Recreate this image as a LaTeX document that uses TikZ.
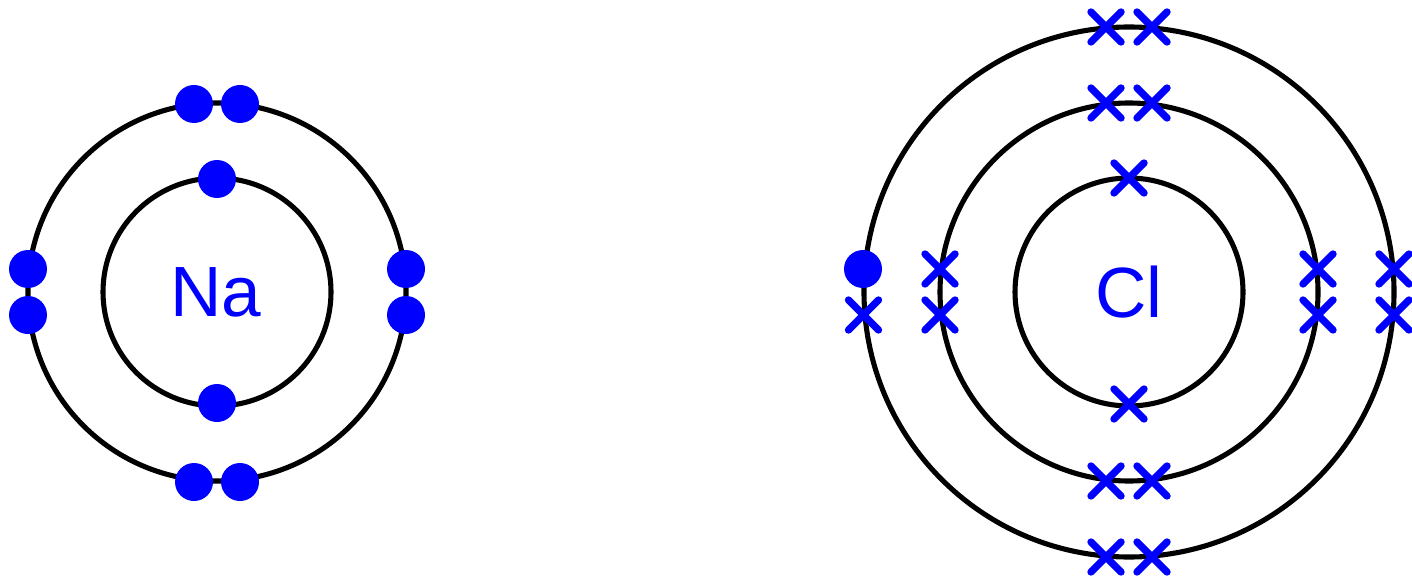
\documentclass[tikz,border=0pt]{standalone}
\usepackage{fontspec}
\setmainfont{Liberation Sans}
\usetikzlibrary{shapes.misc}
\definecolor{elecblue}{RGB}{0,0,255}
\tikzset{
  shell/.style={draw=black,line width=2.9pt},
  dotelec/.style={circle,fill=elecblue,inner sep=0pt,minimum size=0.76cm},
  crosselec/.style={cross out,draw=elecblue,line width=4.2pt,line cap=round,inner sep=0pt,outer sep=0pt,minimum size=0.6cm},
  atomlabel/.style={text=elecblue,font=\fontsize{40.5}{48}\selectfont}
}
\begin{document}
\begin{tikzpicture}
\useasboundingbox (0,0) rectangle (28.24,11.54);
% sodium
\coordinate (na) at (4.34,5.7);
\draw[shell] (na) circle (2.28);
\draw[shell] (na) circle (3.78);
\node[atomlabel] (nalabel) at (4.32,5.7) {Na};
\node[dotelec] (nainnertop) at (4.34,7.96) {};
\node[dotelec] (nainnerbot) at (4.34,3.48) {};
\foreach \dx/\nm in {-0.46/a,0.46/b} {
  \node[dotelec] (natop\nm) at (4.34+\dx,9.46) {};
  \node[dotelec] (nabot\nm) at (4.34+\dx,1.9) {};
  \node[dotelec] (naleft\nm) at (0.56,5.7+\dx) {};
  \node[dotelec] (naright\nm) at (8.12,5.7+\dx) {};
}
% chlorine
\coordinate (cl) at (22.58,5.7);
\draw[shell] (cl) circle (2.28);
\draw[shell] (cl) circle (3.78);
\draw[shell] (cl) circle (5.3);
\node[atomlabel] (cllabel) at (cl) {Cl};
\node[crosselec] (clinnertop) at (22.58,7.98) {};
\node[crosselec] (clinnerbot) at (22.58,3.46) {};
\foreach \dx/\nm in {-0.46/a,0.46/b} {
  \node[crosselec] (clmidtop\nm) at (22.58+\dx,9.48) {};
  \node[crosselec] (clmidbot\nm) at (22.58+\dx,1.92) {};
  \node[crosselec] (clmidleft\nm) at (18.8,5.7+\dx) {};
  \node[crosselec] (clmidright\nm) at (26.36,5.7+\dx) {};
  \node[crosselec] (clouttop\nm) at (22.58+\dx,11) {};
  \node[crosselec] (cloutbot\nm) at (22.58+\dx,0.4) {};
  \node[crosselec] (cloutright\nm) at (27.88,5.7+\dx) {};
}
\node[dotelec] (clouterdot) at (17.26,6.16) {};
\node[crosselec] (clouterleft) at (17.27,5.24) {};
\end{tikzpicture}
\end{document}
